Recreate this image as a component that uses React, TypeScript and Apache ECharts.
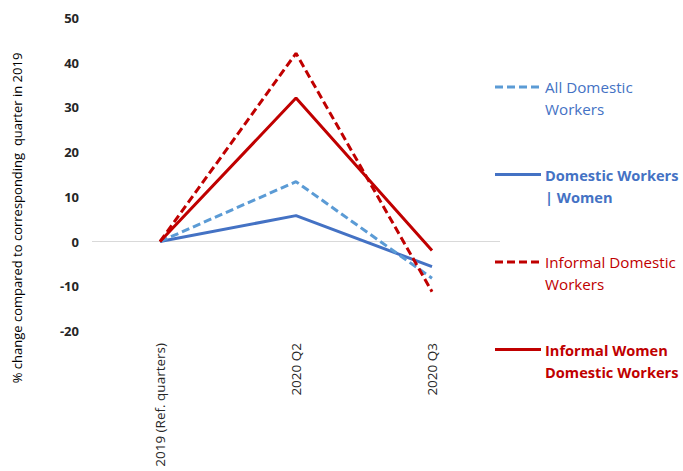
import React, { useEffect, useRef } from "react";
import * as echarts from "echarts";

const categories = ["2019 (Ref. quarters)", "2020 Q2", "2020 Q3"];
const allDomestic = [0, 13.4, -8.2];
const domesticWomen = [0, 5.8, -5.6];
const informalDomestic = [0, 42.1, -11.2];
const informalWomen = [0, 32.1, -2.0];
const yTicks = { min: -20, max: 50, interval: 10 };
const yAxisTitle = "% change compared to corresponding  quarter in 2019";

const FONT = "'Open Sans', sans-serif";
const LIGHT_BLUE = "#5B9BD5";
const BLUE = "#4472C4";
const RED = "#C00000";

const legendItems = [
  { text: "All Domestic\nWorkers", line: LIGHT_BLUE, textColor: BLUE, dashed: true, bold: false },
  { text: "Domestic Workers\n| Women", line: BLUE, textColor: BLUE, dashed: false, bold: true },
  { text: "Informal Domestic\nWorkers", line: RED, textColor: RED, dashed: true, bold: false },
  { text: "Informal Women\nDomestic Workers", line: RED, textColor: RED, dashed: false, bold: true },
];

export default function App() {
  const ref = useRef<HTMLDivElement>(null);
  useEffect(() => {
    if (!ref.current) return;
    const chart = echarts.init(ref.current, null, { renderer: "svg" });
    const legendGraphics: any[] = [];
    legendItems.forEach((it, i) => {
      const y = 87 + i * 87.5;
      legendGraphics.push({
        type: "line",
        shape: { x1: 495, y1: y, x2: 541, y2: y },
        style: { stroke: it.line, lineWidth: 3, lineDash: it.dashed ? [8, 4] : null },
      });
      legendGraphics.push({
        type: "text",
        x: 545,
        y: y - 11,
        style: {
          text: it.text,
          fill: it.textColor,
          font: `${it.bold ? "bold " : ""}${it.bold ? 14.6 : 15.2}px ${FONT}`,
          lineHeight: 22,
          textVerticalAlign: "top",
        },
      });
    });
    const mk = (name: string, data: number[], color: string, dashed: boolean, z: number) => ({
      name,
      type: "line",
      data,
      symbol: "none",
      z,
      lineStyle: { color, width: 3, type: dashed ? [8, 4] : "solid" },
      itemStyle: { color },
    });
    const s1: any = mk("All Domestic Workers", allDomestic, LIGHT_BLUE, true, 3);
    s1.markLine = {
      silent: true,
      symbol: "none",
      label: { show: false },
      lineStyle: { color: "#D9D9D9", width: 1, type: "solid" },
      data: [{ yAxis: 0 }],
      z: 1,
    };
    chart.setOption({
      animation: false,
      grid: { left: 92, right: 183, top: 18, bottom: 140, containLabel: false },
      xAxis: {
        type: "category",
        data: categories,
        boundaryGap: true,
        axisLine: { show: false, onZero: false },
        axisTick: { show: false },
        axisLabel: { rotate: 90, margin: 12, color: "#262626", fontFamily: FONT, fontSize: 13.5 },
      },
      yAxis: {
        type: "value",
        min: yTicks.min,
        max: yTicks.max,
        interval: yTicks.interval,
        axisLine: { show: false },
        axisTick: { show: false },
        splitLine: { show: false },
        axisLabel: { margin: 13, color: "#262626", fontFamily: FONT, fontSize: 13, fontWeight: "bold" },
      },
      series: [
        s1,
        mk("Domestic Workers | Women", domesticWomen, BLUE, false, 2),
        mk("Informal Domestic Workers", informalDomestic, RED, true, 4),
        mk("Informal Women Domestic Workers", informalWomen, RED, false, 3),
      ],
      graphic: [
        {
          type: "text",
          x: 17,
          y: 218,
          rotation: Math.PI / 2,
          style: {
            text: yAxisTitle,
            fill: "#000",
            font: `13px ${FONT}`,
            textAlign: "center",
            textVerticalAlign: "middle",
          },
        },
        ...legendGraphics,
      ],
    });
    return () => chart.dispose();
  }, []);
  return <div ref={ref} style={{ width: 683, height: 471, position: "absolute", left: 0, top: 0 }} />;
}
